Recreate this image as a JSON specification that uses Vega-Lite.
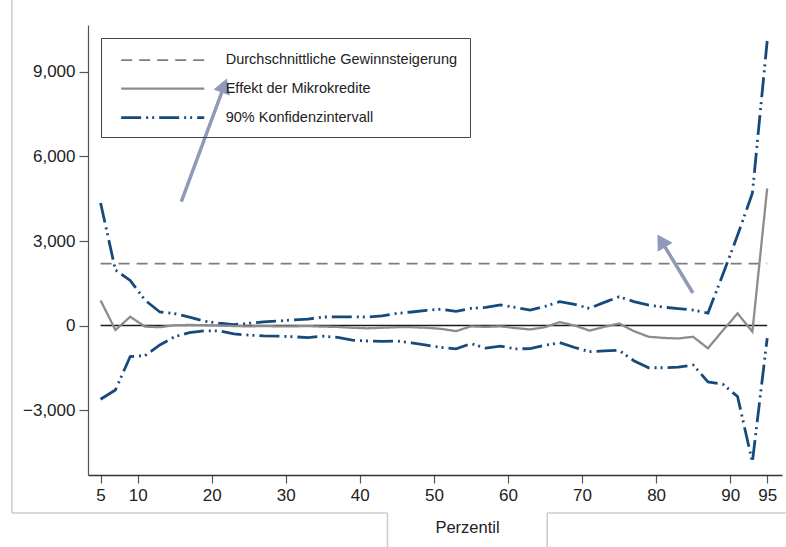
{
  "$schema": "https://vega.github.io/schema/vega-lite/v6.json",
  "width": 694,
  "height": 450,
  "autosize": {"type": "none"},
  "padding": {"left": 88, "top": 25, "right": 4, "bottom": 72},
  "background": "white",
  "config": {
    "view": {"stroke": null},
    "font": "Liberation Sans",
    "legend": {
      "symbolType": "M-5,0H5",
      "symbolSize": 276,
      "symbolOffset": 39,
      "labelFontSize": 14.5,
      "labelFont": "Liberation Sans",
      "labelColor": "#222222",
      "labelOffset": 53,
      "labelLimit": 400,
      "padding": 12.7,
      "rowPadding": 12.5,
      "strokeColor": "#444444",
      "title": null
    }
  },
  "datasets": {
    "rahmen": [
      {"p": -6.98, "p2": -6.98, "v": 11555, "v2": -6656},
      {"p": -6.98, "p2": 43.73, "v": -6656, "v2": -6656},
      {"p": 43.73, "p2": 43.73, "v": -6656, "v2": -7864},
      {"p": 65.3, "p2": 97.5, "v": -6656, "v2": -6656},
      {"p": 65.3, "p2": 65.3, "v": -6656, "v2": -7864}
    ],
    "null": [{"p": 5, "p2": 95, "v": 0}],
    "pfeile": [
      {"p": 15.9, "v": 4395, "p2": 21.7, "v2": 8520},
      {"p": 84.97, "v": 1154, "p2": 80.7, "v2": 3007}
    ],
    "linien": [
      {"p": 5, "v": 2200, "serie": "Durchschnittliche Gewinnsteigerung", "band": "m"},
      {"p": 95, "v": 2200, "serie": "Durchschnittliche Gewinnsteigerung", "band": "m"},
      {"p": 5, "v": 4350, "serie": "90% Konfidenzintervall", "band": "o"},
      {"p": 7, "v": 1970, "serie": "90% Konfidenzintervall", "band": "o"},
      {"p": 9, "v": 1600, "serie": "90% Konfidenzintervall", "band": "o"},
      {"p": 11, "v": 900, "serie": "90% Konfidenzintervall", "band": "o"},
      {"p": 13, "v": 480, "serie": "90% Konfidenzintervall", "band": "o"},
      {"p": 15, "v": 420, "serie": "90% Konfidenzintervall", "band": "o"},
      {"p": 17, "v": 300, "serie": "90% Konfidenzintervall", "band": "o"},
      {"p": 19, "v": 150, "serie": "90% Konfidenzintervall", "band": "o"},
      {"p": 21, "v": 80, "serie": "90% Konfidenzintervall", "band": "o"},
      {"p": 23, "v": 30, "serie": "90% Konfidenzintervall", "band": "o"},
      {"p": 25, "v": 80, "serie": "90% Konfidenzintervall", "band": "o"},
      {"p": 27, "v": 130, "serie": "90% Konfidenzintervall", "band": "o"},
      {"p": 29, "v": 160, "serie": "90% Konfidenzintervall", "band": "o"},
      {"p": 31, "v": 200, "serie": "90% Konfidenzintervall", "band": "o"},
      {"p": 33, "v": 230, "serie": "90% Konfidenzintervall", "band": "o"},
      {"p": 35, "v": 300, "serie": "90% Konfidenzintervall", "band": "o"},
      {"p": 37, "v": 310, "serie": "90% Konfidenzintervall", "band": "o"},
      {"p": 39, "v": 310, "serie": "90% Konfidenzintervall", "band": "o"},
      {"p": 41, "v": 300, "serie": "90% Konfidenzintervall", "band": "o"},
      {"p": 43, "v": 340, "serie": "90% Konfidenzintervall", "band": "o"},
      {"p": 45, "v": 430, "serie": "90% Konfidenzintervall", "band": "o"},
      {"p": 47, "v": 480, "serie": "90% Konfidenzintervall", "band": "o"},
      {"p": 49, "v": 540, "serie": "90% Konfidenzintervall", "band": "o"},
      {"p": 51, "v": 580, "serie": "90% Konfidenzintervall", "band": "o"},
      {"p": 53, "v": 500, "serie": "90% Konfidenzintervall", "band": "o"},
      {"p": 55, "v": 610, "serie": "90% Konfidenzintervall", "band": "o"},
      {"p": 57, "v": 640, "serie": "90% Konfidenzintervall", "band": "o"},
      {"p": 59, "v": 730, "serie": "90% Konfidenzintervall", "band": "o"},
      {"p": 61, "v": 640, "serie": "90% Konfidenzintervall", "band": "o"},
      {"p": 63, "v": 550, "serie": "90% Konfidenzintervall", "band": "o"},
      {"p": 65, "v": 680, "serie": "90% Konfidenzintervall", "band": "o"},
      {"p": 67, "v": 845, "serie": "90% Konfidenzintervall", "band": "o"},
      {"p": 69, "v": 750, "serie": "90% Konfidenzintervall", "band": "o"},
      {"p": 71, "v": 610, "serie": "90% Konfidenzintervall", "band": "o"},
      {"p": 73, "v": 820, "serie": "90% Konfidenzintervall", "band": "o"},
      {"p": 75, "v": 1020, "serie": "90% Konfidenzintervall", "band": "o"},
      {"p": 77, "v": 850, "serie": "90% Konfidenzintervall", "band": "o"},
      {"p": 79, "v": 720, "serie": "90% Konfidenzintervall", "band": "o"},
      {"p": 81, "v": 650, "serie": "90% Konfidenzintervall", "band": "o"},
      {"p": 83, "v": 600, "serie": "90% Konfidenzintervall", "band": "o"},
      {"p": 85, "v": 550, "serie": "90% Konfidenzintervall", "band": "o"},
      {"p": 87, "v": 440, "serie": "90% Konfidenzintervall", "band": "o"},
      {"p": 89, "v": 1800, "serie": "90% Konfidenzintervall", "band": "o"},
      {"p": 91, "v": 3200, "serie": "90% Konfidenzintervall", "band": "o"},
      {"p": 93, "v": 4700, "serie": "90% Konfidenzintervall", "band": "o"},
      {"p": 95, "v": 10100, "serie": "90% Konfidenzintervall", "band": "o"},
      {"p": 5, "v": -2620, "serie": "90% Konfidenzintervall", "band": "u"},
      {"p": 7, "v": -2290, "serie": "90% Konfidenzintervall", "band": "u"},
      {"p": 9, "v": -1100, "serie": "90% Konfidenzintervall", "band": "u"},
      {"p": 11, "v": -1070, "serie": "90% Konfidenzintervall", "band": "u"},
      {"p": 13, "v": -690, "serie": "90% Konfidenzintervall", "band": "u"},
      {"p": 15, "v": -400, "serie": "90% Konfidenzintervall", "band": "u"},
      {"p": 17, "v": -250, "serie": "90% Konfidenzintervall", "band": "u"},
      {"p": 19, "v": -190, "serie": "90% Konfidenzintervall", "band": "u"},
      {"p": 21, "v": -190, "serie": "90% Konfidenzintervall", "band": "u"},
      {"p": 23, "v": -300, "serie": "90% Konfidenzintervall", "band": "u"},
      {"p": 25, "v": -340, "serie": "90% Konfidenzintervall", "band": "u"},
      {"p": 27, "v": -370, "serie": "90% Konfidenzintervall", "band": "u"},
      {"p": 29, "v": -380, "serie": "90% Konfidenzintervall", "band": "u"},
      {"p": 31, "v": -400, "serie": "90% Konfidenzintervall", "band": "u"},
      {"p": 33, "v": -430, "serie": "90% Konfidenzintervall", "band": "u"},
      {"p": 35, "v": -380, "serie": "90% Konfidenzintervall", "band": "u"},
      {"p": 37, "v": -420, "serie": "90% Konfidenzintervall", "band": "u"},
      {"p": 39, "v": -520, "serie": "90% Konfidenzintervall", "band": "u"},
      {"p": 41, "v": -550, "serie": "90% Konfidenzintervall", "band": "u"},
      {"p": 43, "v": -560, "serie": "90% Konfidenzintervall", "band": "u"},
      {"p": 45, "v": -550, "serie": "90% Konfidenzintervall", "band": "u"},
      {"p": 47, "v": -620, "serie": "90% Konfidenzintervall", "band": "u"},
      {"p": 49, "v": -700, "serie": "90% Konfidenzintervall", "band": "u"},
      {"p": 51, "v": -780, "serie": "90% Konfidenzintervall", "band": "u"},
      {"p": 53, "v": -830, "serie": "90% Konfidenzintervall", "band": "u"},
      {"p": 55, "v": -640, "serie": "90% Konfidenzintervall", "band": "u"},
      {"p": 57, "v": -800, "serie": "90% Konfidenzintervall", "band": "u"},
      {"p": 59, "v": -730, "serie": "90% Konfidenzintervall", "band": "u"},
      {"p": 61, "v": -830, "serie": "90% Konfidenzintervall", "band": "u"},
      {"p": 63, "v": -820, "serie": "90% Konfidenzintervall", "band": "u"},
      {"p": 65, "v": -700, "serie": "90% Konfidenzintervall", "band": "u"},
      {"p": 67, "v": -610, "serie": "90% Konfidenzintervall", "band": "u"},
      {"p": 69, "v": -780, "serie": "90% Konfidenzintervall", "band": "u"},
      {"p": 71, "v": -930, "serie": "90% Konfidenzintervall", "band": "u"},
      {"p": 73, "v": -900, "serie": "90% Konfidenzintervall", "band": "u"},
      {"p": 75, "v": -880, "serie": "90% Konfidenzintervall", "band": "u"},
      {"p": 77, "v": -1250, "serie": "90% Konfidenzintervall", "band": "u"},
      {"p": 79, "v": -1500, "serie": "90% Konfidenzintervall", "band": "u"},
      {"p": 81, "v": -1500, "serie": "90% Konfidenzintervall", "band": "u"},
      {"p": 83, "v": -1480, "serie": "90% Konfidenzintervall", "band": "u"},
      {"p": 85, "v": -1400, "serie": "90% Konfidenzintervall", "band": "u"},
      {"p": 87, "v": -2000, "serie": "90% Konfidenzintervall", "band": "u"},
      {"p": 89, "v": -2080, "serie": "90% Konfidenzintervall", "band": "u"},
      {"p": 91, "v": -2520, "serie": "90% Konfidenzintervall", "band": "u"},
      {"p": 93, "v": -4850, "serie": "90% Konfidenzintervall", "band": "u"},
      {"p": 95, "v": -450, "serie": "90% Konfidenzintervall", "band": "u"},
      {"p": 5, "v": 890, "serie": "Effekt der Mikrokredite", "band": "e"},
      {"p": 7, "v": -160, "serie": "Effekt der Mikrokredite", "band": "e"},
      {"p": 9, "v": 310, "serie": "Effekt der Mikrokredite", "band": "e"},
      {"p": 11, "v": -40, "serie": "Effekt der Mikrokredite", "band": "e"},
      {"p": 13, "v": -60, "serie": "Effekt der Mikrokredite", "band": "e"},
      {"p": 15, "v": 10, "serie": "Effekt der Mikrokredite", "band": "e"},
      {"p": 17, "v": 20, "serie": "Effekt der Mikrokredite", "band": "e"},
      {"p": 19, "v": 10, "serie": "Effekt der Mikrokredite", "band": "e"},
      {"p": 21, "v": 0, "serie": "Effekt der Mikrokredite", "band": "e"},
      {"p": 23, "v": -20, "serie": "Effekt der Mikrokredite", "band": "e"},
      {"p": 25, "v": -30, "serie": "Effekt der Mikrokredite", "band": "e"},
      {"p": 27, "v": -20, "serie": "Effekt der Mikrokredite", "band": "e"},
      {"p": 29, "v": -30, "serie": "Effekt der Mikrokredite", "band": "e"},
      {"p": 31, "v": -30, "serie": "Effekt der Mikrokredite", "band": "e"},
      {"p": 33, "v": -20, "serie": "Effekt der Mikrokredite", "band": "e"},
      {"p": 35, "v": -40, "serie": "Effekt der Mikrokredite", "band": "e"},
      {"p": 37, "v": -50, "serie": "Effekt der Mikrokredite", "band": "e"},
      {"p": 39, "v": -80, "serie": "Effekt der Mikrokredite", "band": "e"},
      {"p": 41, "v": -100, "serie": "Effekt der Mikrokredite", "band": "e"},
      {"p": 43, "v": -80, "serie": "Effekt der Mikrokredite", "band": "e"},
      {"p": 45, "v": -60, "serie": "Effekt der Mikrokredite", "band": "e"},
      {"p": 47, "v": -60, "serie": "Effekt der Mikrokredite", "band": "e"},
      {"p": 49, "v": -80, "serie": "Effekt der Mikrokredite", "band": "e"},
      {"p": 51, "v": -120, "serie": "Effekt der Mikrokredite", "band": "e"},
      {"p": 53, "v": -200, "serie": "Effekt der Mikrokredite", "band": "e"},
      {"p": 55, "v": -30, "serie": "Effekt der Mikrokredite", "band": "e"},
      {"p": 57, "v": -50, "serie": "Effekt der Mikrokredite", "band": "e"},
      {"p": 59, "v": -30, "serie": "Effekt der Mikrokredite", "band": "e"},
      {"p": 61, "v": -90, "serie": "Effekt der Mikrokredite", "band": "e"},
      {"p": 63, "v": -140, "serie": "Effekt der Mikrokredite", "band": "e"},
      {"p": 65, "v": -60, "serie": "Effekt der Mikrokredite", "band": "e"},
      {"p": 67, "v": 120, "serie": "Effekt der Mikrokredite", "band": "e"},
      {"p": 69, "v": 0, "serie": "Effekt der Mikrokredite", "band": "e"},
      {"p": 71, "v": -180, "serie": "Effekt der Mikrokredite", "band": "e"},
      {"p": 73, "v": -50, "serie": "Effekt der Mikrokredite", "band": "e"},
      {"p": 75, "v": 70, "serie": "Effekt der Mikrokredite", "band": "e"},
      {"p": 77, "v": -200, "serie": "Effekt der Mikrokredite", "band": "e"},
      {"p": 79, "v": -400, "serie": "Effekt der Mikrokredite", "band": "e"},
      {"p": 81, "v": -440, "serie": "Effekt der Mikrokredite", "band": "e"},
      {"p": 83, "v": -460, "serie": "Effekt der Mikrokredite", "band": "e"},
      {"p": 85, "v": -400, "serie": "Effekt der Mikrokredite", "band": "e"},
      {"p": 87, "v": -810, "serie": "Effekt der Mikrokredite", "band": "e"},
      {"p": 89, "v": -180, "serie": "Effekt der Mikrokredite", "band": "e"},
      {"p": 91, "v": 430, "serie": "Effekt der Mikrokredite", "band": "e"},
      {"p": 93, "v": -220, "serie": "Effekt der Mikrokredite", "band": "e"},
      {"p": 95, "v": 4870, "serie": "Effekt der Mikrokredite", "band": "e"}
    ]
  },
  "encoding": {
    "x": {
      "field": "p",
      "type": "quantitative",
      "scale": {"domain": [3.3, 97.0], "nice": false, "zero": false},
      "axis": {
        "title": "Perzentil",
        "titleFont": "Liberation Sans",
        "titleFontSize": 16.5,
        "titleFontWeight": "normal",
        "titleColor": "#222222",
        "titleX": 379,
        "titleY": 52,
        "titleBaseline": "middle",
        "values": [5, 10, 20, 30, 40, 50, 60, 70, 80, 90, 95],
        "labelFontSize": 17,
        "labelColor": "#222222",
        "labelPadding": 4,
        "tickSize": 8,
        "tickColor": "#555555",
        "tickWidth": 1.2,
        "domainColor": "#333333",
        "domainWidth": 1.3,
        "grid": false,
        "labelFlush": false,
        "labelOverlap": false
      }
    },
    "y": {
      "field": "v",
      "type": "quantitative",
      "scale": {"domain": [-5307, 10668], "nice": false, "zero": false},
      "axis": {
        "title": null,
        "values": [-3000, 0, 3000, 6000, 9000],
        "format": ",d",
        "labelFontSize": 17,
        "labelColor": "#222222",
        "labelPadding": 4,
        "tickSize": 9,
        "tickColor": "#555555",
        "tickWidth": 1.2,
        "domainColor": "#555555",
        "domainWidth": 1.2,
        "grid": false
      }
    }
  },
  "layer": [
    {
      "data": {"name": "rahmen"},
      "mark": {"type": "rule", "color": "#cccccc", "strokeWidth": 1.5, "clip": false},
      "encoding": {"x2": {"field": "p2"}, "y2": {"field": "v2"}}
    },
    {
      "data": {"name": "null"},
      "mark": {"type": "rule", "color": "#1a1a1a", "strokeWidth": 1.3},
      "encoding": {"x2": {"field": "p2"}}
    },
    {
      "data": {"name": "linien"},
      "mark": {"type": "line", "clip": false},
      "encoding": {
        "detail": {"field": "band"},
        "color": {
          "field": "serie",
          "type": "nominal",
          "scale": {
            "domain": ["Durchschnittliche Gewinnsteigerung", "Effekt der Mikrokredite", "90% Konfidenzintervall"],
            "range": ["#7d7d7d", "#8c8c8c", "#174a7c"]
          },
          "legend": {"orient": "none", "legendX": 13, "legendY": 13}
        },
        "strokeDash": {
          "field": "serie",
          "type": "nominal",
          "scale": {
            "domain": ["Durchschnittliche Gewinnsteigerung", "Effekt der Mikrokredite", "90% Konfidenzintervall"],
            "range": [[11, 7], [1, 0], [20, 5, 2, 4, 2, 5]]
          },
          "legend": {"orient": "none", "legendX": 13, "legendY": 13}
        },
        "strokeWidth": {
          "field": "serie",
          "type": "nominal",
          "scale": {
            "domain": ["Durchschnittliche Gewinnsteigerung", "Effekt der Mikrokredite", "90% Konfidenzintervall"],
            "range": [1.8, 2.8, 3.2]
          },
          "legend": {"orient": "none", "legendX": 13, "legendY": 13}
        },
        "order": {"field": "p", "type": "quantitative"}
      }
    },
    {
      "data": {"name": "pfeile"},
      "mark": {"type": "rule", "color": "#8e9ab6", "strokeWidth": 3.5, "clip": false},
      "encoding": {"x2": {"field": "p2"}, "y2": {"field": "v2"}}
    },
    {
      "data": {"values": [{"p": 21.7, "v": 8520}]},
      "mark": {"type": "point", "shape": "triangle-up", "filled": true, "color": "#8e9ab6", "opacity": 1, "size": 300, "angle": 20}
    },
    {
      "data": {"values": [{"p": 80.7, "v": 3007}]},
      "mark": {"type": "point", "shape": "triangle-up", "filled": true, "color": "#8e9ab6", "opacity": 1, "size": 300, "angle": 328.6}
    }
  ]
}
